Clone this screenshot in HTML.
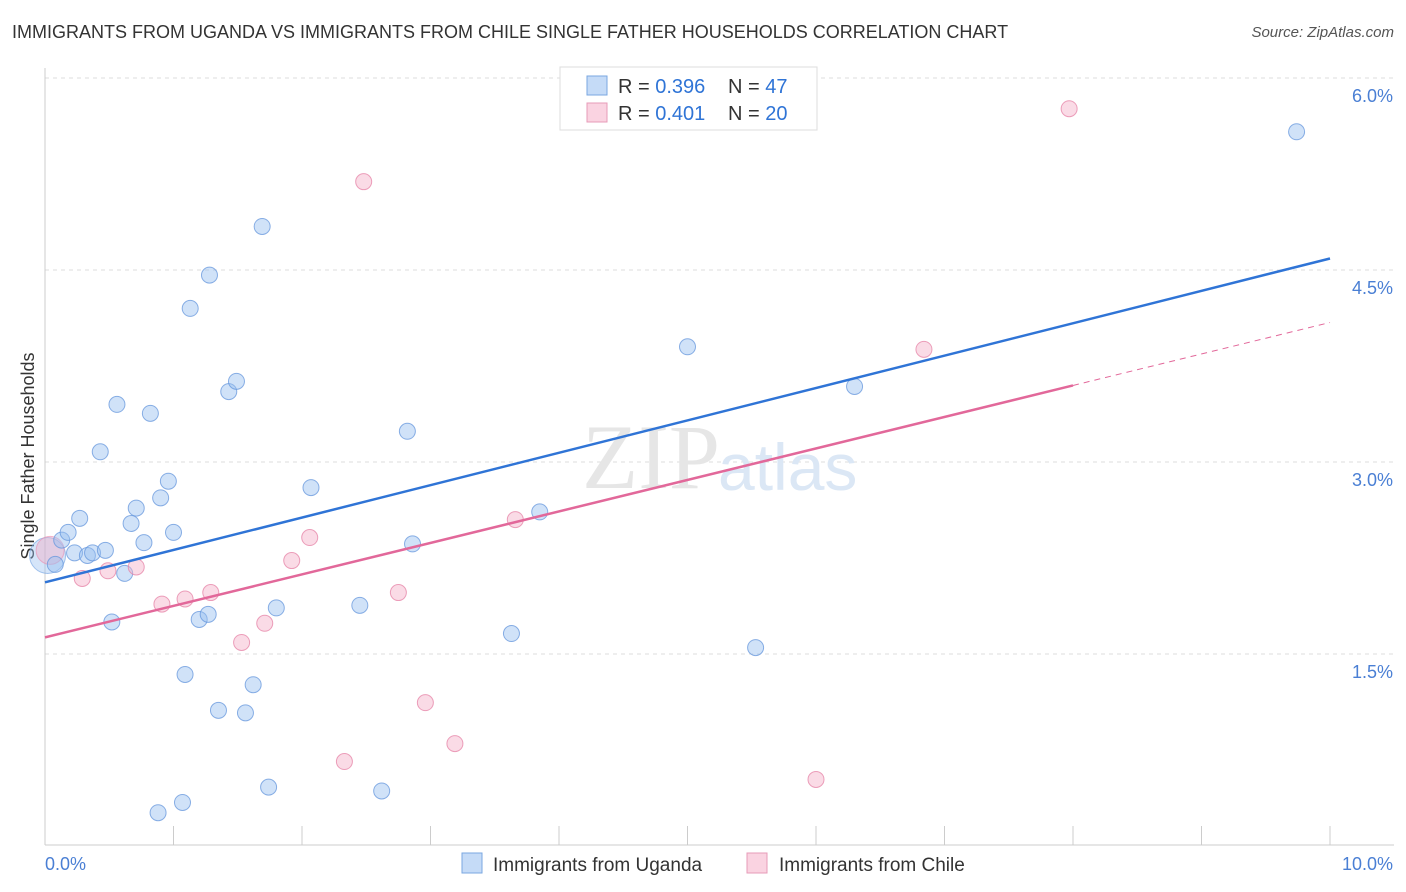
<!DOCTYPE html>
<html><head><meta charset="utf-8"><style>
body{margin:0;background:#fff;font-family:"Liberation Sans",sans-serif;}
#wrap{position:relative;width:1406px;height:892px;overflow:hidden;}
.title{position:absolute;left:12px;top:22px;font-size:18px;color:#333;}
.src{position:absolute;right:12px;top:24px;font-size:15px;color:#555;font-style:italic;}
</style></head><body>
<div id="wrap">
<div class="title">IMMIGRANTS FROM UGANDA VS IMMIGRANTS FROM CHILE SINGLE FATHER HOUSEHOLDS CORRELATION CHART</div>
<div class="src">Source: ZipAtlas.com</div>
<svg id="svg" width="1406" height="892" style="position:absolute;left:0;top:0"></svg>
</div>
<script>
const yTicks=[1.5,3.0,4.5,6.0];
const yTickLabels=["1.5%","3.0%","4.5%","6.0%"];
const xTickLabels=["0.0%","10.0%"];
const ugandaX=[0.08,0.13,0.18,0.23,0.27,0.33,0.37,0.43,0.47,0.52,0.56,0.62,0.67,0.71,0.77,0.82,0.88,0.90,0.96,1.00,1.07,1.09,1.13,1.20,1.27,1.28,1.35,1.43,1.49,1.56,1.62,1.69,1.74,1.80,2.07,2.45,2.62,2.82,2.86,3.63,3.85,5.00,5.47,5.53,6.30,9.74];
const ugandaY=[2.20,2.39,2.45,2.29,2.56,2.27,2.29,3.08,2.31,1.75,3.45,2.13,2.52,2.64,2.37,3.38,0.26,2.72,2.85,2.45,0.34,1.34,4.20,1.77,1.81,4.46,1.06,3.55,3.63,1.04,1.26,4.84,0.46,1.86,2.80,1.88,0.43,3.24,2.36,1.66,2.61,3.90,5.77,1.55,3.59,5.58];
const chileX=[0.29,0.49,0.71,0.91,1.09,1.29,1.53,1.71,1.92,2.06,2.48,2.33,2.75,2.96,3.19,3.66,6.00,6.84,7.97];
const chileY=[2.09,2.15,2.18,1.89,1.93,1.98,1.59,1.74,2.23,2.41,5.19,0.66,1.98,1.12,0.80,2.55,0.52,3.88,5.76];
const ugandaTrend=[2.06,4.59];
const chileTrend=[1.63,4.09];
const X=v=>45+v*128.5, Y=v=>846-v*128;
const svg=document.getElementById('svg');const NS='http://www.w3.org/2000/svg';
function mk(t,a,name){const e=document.createElementNS(NS,t);for(const k in a)e.setAttribute(k,a[k]);


svg.appendChild(e);return e;}
yTicks.forEach((v,i)=>{mk('line',{x1:45,x2:1394,y1:Y(v),y2:Y(v),stroke:'#ddd','stroke-dasharray':'4,4'},'gridline');
const t=mk('text',{x:1393,y:Y(v)+24,'text-anchor':'end','font-size':18,fill:'#4a7fd4'},'y-tick-label');t.textContent=yTickLabels[i];});
mk('line',{x1:45,x2:45,y1:68,y2:845,stroke:'#ccc'},'y-axis');
mk('line',{x1:45,x2:1394,y1:845,y2:845,stroke:'#ccc'},'x-axis');
for(let i=0;i<=10;i++)mk('line',{x1:X(i),x2:X(i),y1:826,y2:845,stroke:'#ccc'},'x-tick');
let t=mk('text',{x:45,y:870,'font-size':18,fill:'#4a7fd4'},'x-tick-label');t.textContent=xTickLabels[0];
t=mk('text',{x:1393,y:870,'text-anchor':'end','font-size':18,fill:'#4a7fd4'},'x-tick-label');t.textContent=xTickLabels[1];
t=mk('text',{x:34,y:456,'font-size':18,fill:'#333','text-anchor':'middle',transform:'rotate(-90 34 456)'},'y-axis-title');t.textContent='Single Father Households';
t=mk('text',{x:720,y:488,'font-size':92,fill:'#e6e6e6','text-anchor':'end','font-family':'Liberation Serif'},'watermark');t.textContent='ZIP';
t=mk('text',{x:718,y:490,'font-size':66,fill:'#dbe7f5'},'watermark');t.textContent='atlas';
mk('circle',{cx:X(0.02),cy:Y(2.27),r:18,fill:'rgba(150,190,240,0.4)',stroke:'rgba(110,160,225,0.6)'},'uganda-point');
mk('circle',{cx:X(0.04),cy:Y(2.31),r:14,fill:'rgba(245,170,195,0.4)',stroke:'rgba(235,140,175,0.6)'},'chile-point');
ugandaX.forEach((x,i)=>mk('circle',{cx:X(x),cy:Y(ugandaY[i]),r:8,fill:'rgba(150,190,240,0.45)',stroke:'rgba(100,150,220,0.75)'},'uganda-point'));
chileX.forEach((x,i)=>mk('circle',{cx:X(x),cy:Y(chileY[i]),r:8,fill:'rgba(245,175,200,0.45)',stroke:'rgba(230,130,165,0.75)'},'chile-point'));
mk('line',{x1:X(0),y1:Y(ugandaTrend[0]),x2:X(10),y2:Y(ugandaTrend[1]),stroke:'#2f74d6','stroke-width':2.5},'uganda-trendline');
const cy8=chileTrend[0]+(chileTrend[1]-chileTrend[0])*0.8;
mk('line',{x1:X(0),y1:Y(chileTrend[0]),x2:X(8),y2:Y(cy8),stroke:'#e2689a','stroke-width':2.5},'chile-trendline');
mk('line',{x1:X(8),y1:Y(cy8),x2:X(10),y2:Y(chileTrend[1]),stroke:'#e2689a','stroke-width':1,'stroke-dasharray':'6,5'},'chile-trendline-extension');
// top legend
mk('rect',{x:560,y:67,width:257,height:63,fill:'#fff',stroke:'#ddd'},'stats-legend');
mk('rect',{x:587,y:76,width:20,height:19,fill:'rgba(150,190,240,0.55)',stroke:'#7aa7e0'},'legend-swatch-uganda');
mk('rect',{x:587,y:103,width:20,height:19,fill:'rgba(245,175,200,0.55)',stroke:'#e79bb8'},'legend-swatch-chile');
function stat(y,r,n,name){const e=mk('text',{x:618,y:y,'font-size':20,fill:'#333'},name);
e.innerHTML='R = <tspan fill="#2f74d6">'+r+'</tspan><tspan x="728">N = </tspan><tspan fill="#2f74d6">'+n+'</tspan>';}
stat(93,'0.396','47','legend-stats-uganda');stat(120,'0.401','20','legend-stats-chile');
// bottom legend
mk('rect',{x:462,y:853,width:20,height:20,fill:'rgba(150,190,240,0.55)',stroke:'#7aa7e0'},'legend-swatch-uganda');
t=mk('text',{x:493,y:871,'font-size':19,fill:'#333'},'legend-entry-uganda');t.textContent='Immigrants from Uganda';
mk('rect',{x:747,y:853,width:20,height:20,fill:'rgba(245,175,200,0.55)',stroke:'#e79bb8'},'legend-swatch-chile');
t=mk('text',{x:779,y:871,'font-size':19,fill:'#333'},'legend-entry-chile');t.textContent='Immigrants from Chile';
</script>
</body></html>
